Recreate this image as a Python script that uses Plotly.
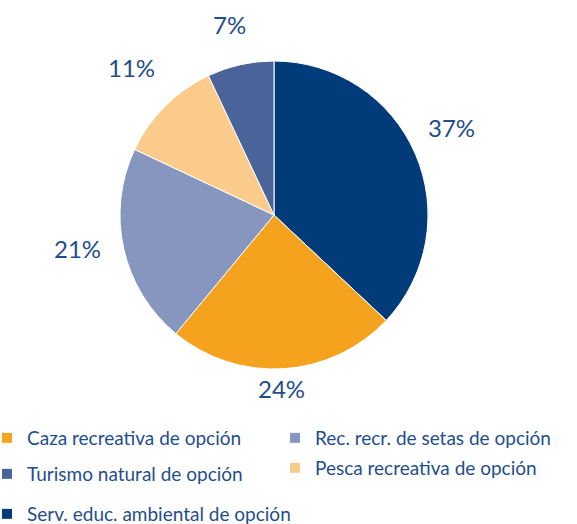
import math
import plotly.graph_objects as go

# Slice data (clockwise from 12 o'clock)
slice_labels = ["Serv. educ. ambiental de opción", "Caza recreativa de opción",
                "Rec. recr. de setas de opción", "Pesca recreativa de opción",
                "Turismo natural de opción"]
slice_values = [37, 24, 21, 11, 7]
slice_colors = ["#023B7A", "#F5A21F", "#8796BF", "#FBCB8C", "#4A6399"]

# Legend order as displayed
legend_order = ["Caza recreativa de opción", "Rec. recr. de setas de opción",
                "Turismo natural de opción", "Pesca recreativa de opción",
                "Serv. educ. ambiental de opción"]

TEXT = "#1F4E8C"
FONT = "Lato"
W, H = 577, 524
CX, CY, R = 274, 215, 154   # pie placement in pixels

fig = go.Figure()
fig.add_trace(go.Pie(
    labels=slice_labels, values=slice_values, sort=False,
    direction="clockwise", rotation=0,
    marker=dict(colors=slice_colors, line=dict(color="white", width=1)),
    textinfo="none", showlegend=False, automargin=False, hoverinfo="label+percent",
    domain=dict(x=[(CX - R) / W, (CX + R) / W],
                y=[(H - CY - R) / H, (H - CY + R) / H]),
))

# Percentage labels outside the slices, placed at each slice's mid angle
total = sum(slice_values)
cum = 0
for v in slice_values:
    frac = v / total
    ang = 2 * math.pi * (cum + frac / 2)
    cum += frac
    s, c = math.sin(ang), math.cos(ang)
    d = R + 15 + 26 * abs(s) + 12 * abs(c)
    fig.add_annotation(
        x=(CX - 4 + d * s) / W, y=(H - CY + 9 + d * c) / H,
        xref="paper", yref="paper",
        text=f"{round(frac * 100)}%", showarrow=False,
        xanchor="center", yanchor="middle",
        font=dict(family=FONT, size=24, color=TEXT),
    )

color_of = dict(zip(slice_labels, slice_colors))
# legend positions: (x px, y center px)
pos = [(-13, 438), (275, 438), (-13, 474), (275, 468), (-13, 514)]
for i, name in enumerate(legend_order):
    lname = "legend" if i == 0 else f"legend{i+1}"
    fig.add_trace(go.Scatter(
        x=[None], y=[None], mode="markers", name=name,
        marker=dict(symbol="square", size=10, color=color_of[name]),
        legend=lname, showlegend=True,
    ))
    fig.layout[lname] = dict(
        x=pos[i][0] / W, y=1 - pos[i][1] / H, xanchor="left", yanchor="middle",
        font=dict(family=FONT, size=19, color=TEXT), bgcolor="rgba(0,0,0,0)",
        borderwidth=0,
    )

fig.update_layout(
    width=W, height=H, margin=dict(l=0, r=0, t=0, b=0, autoexpand=False),
    paper_bgcolor="white", plot_bgcolor="white",
    xaxis=dict(visible=False), yaxis=dict(visible=False),
)
fig.write_html("out.html", config={"displayModeBar": False},
               post_script="document.body.style.margin='0';")
